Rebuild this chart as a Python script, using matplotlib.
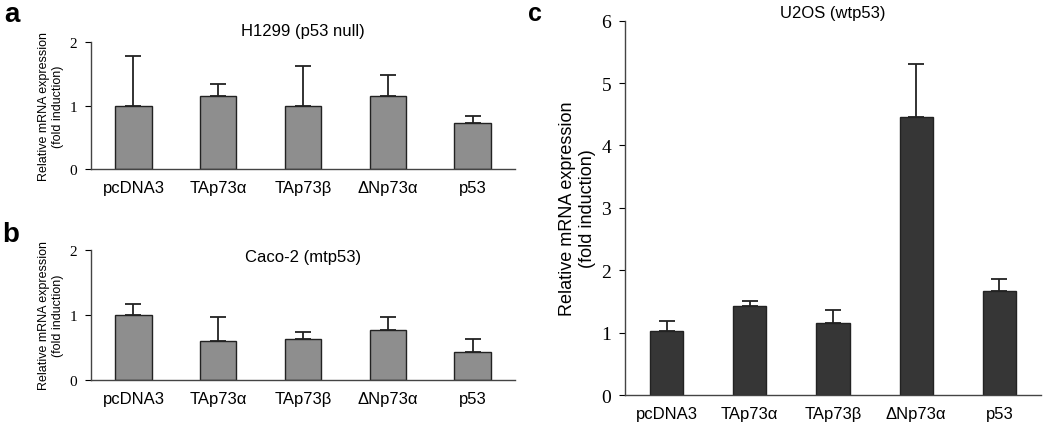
import matplotlib.pyplot as plt
import numpy as np

# data
groups = ["pcDNA3", "TAp73\u03b1", "TAp73\u03b2", "\u0394Np73\u03b1", "p53"]

h1299_mean = [1.00, 1.15, 1.00, 1.16, 0.72]
h1299_top = [1.78, 1.34, 1.62, 1.48, 0.83]

caco2_mean = [1.00, 0.60, 0.63, 0.76, 0.42]
caco2_top = [1.16, 0.96, 0.73, 0.97, 0.62]

u2os_mean = [1.02, 1.42, 1.15, 4.45, 1.66]
u2os_top = [1.19, 1.51, 1.36, 5.30, 1.86]

sans = ["Liberation Sans", "DejaVu Sans"]
serif = ["Liberation Serif", "DejaVu Serif"]

fig = plt.figure(figsize=(10.5, 4.31), dpi=100)


def panel(rect, mean, top, ymax, color, title, title_y, lab_fs, tick_fs, ytick_fs, width):
    ax = fig.add_axes(rect)
    x = np.arange(len(groups))
    err = np.array(top) - np.array(mean)
    ax.bar(x, mean, width=width, color=color, edgecolor="#222222", linewidth=1.0, zorder=2)
    ax.errorbar(x, mean, yerr=[np.zeros_like(err), err], fmt="none", ecolor="#222222",
                elinewidth=1.3, capsize=6, capthick=1.3, zorder=1)
    ax.set_xlim(-0.5, len(groups) - 0.5)
    ax.set_ylim(0, ymax)
    ax.set_yticks(np.arange(0, ymax + 1))
    ax.set_xticks(x)
    ax.set_xticklabels(groups, family=sans, fontsize=tick_fs)
    for t in ax.get_yticklabels():
        t.set_family(serif)
        t.set_fontsize(ytick_fs)
    ax.tick_params(axis="x", length=0, pad=8)
    ax.tick_params(axis="y", length=4, width=0.8, pad=6)
    for s in ["top", "right"]:
        ax.spines[s].set_visible(False)
    for s in ["left", "bottom"]:
        ax.spines[s].set_color("#444444")
        ax.spines[s].set_linewidth(1.0)
    ax.set_ylabel("Relative mRNA expression\n(fold induction)", family=sans, fontsize=lab_fs)
    ax.text(0.5, title_y, title, family=sans, fontsize=tick_fs, ha="center", va="center",
            transform=ax.transAxes)
    return ax


ax_a = panel([0.0867, 0.6056, 0.4038, 0.2939], h1299_mean, h1299_top, 2, "#8e8e8e",
             "H1299 (p53 null)", 1.09, 9, 12, 11, 0.43)
ax_b = panel([0.0867, 0.1167, 0.4038, 0.3016], caco2_mean, caco2_top, 2, "#8e8e8e",
             "Caco-2 (mtp53)", 0.944, 9, 12, 11, 0.43)
ax_c = panel([0.5952, 0.0812, 0.3962, 0.8685], u2os_mean, u2os_top, 6, "#363636",
             "U2OS (wtp53)", 1.023, 13, 12, 14, 0.40)

fig.text(0.004, 0.995, "a", family=sans, fontsize=20, fontweight="bold", va="top")
fig.text(0.002, 0.485, "b", family=sans, fontsize=20, fontweight="bold", va="top")
fig.text(0.503, 0.995, "c", family=sans, fontsize=18, fontweight="bold", va="top")

fig.savefig("out.png", dpi=100)
